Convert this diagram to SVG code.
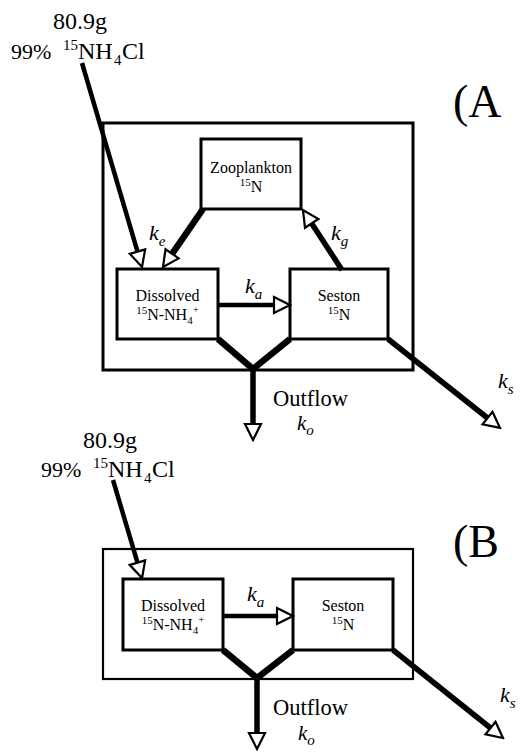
<svg xmlns="http://www.w3.org/2000/svg" width="521" height="753" viewBox="0 0 521 753" font-family="'Liberation Serif','Times New Roman',serif">
<style>
text{font-family:"Liberation Serif","Times New Roman",serif;fill:#000}
.box{fill:#fff;stroke:#000;stroke-width:3}
.outer{fill:none;stroke:#000;stroke-width:3}
.outerB{fill:none;stroke:#000;stroke-width:2.2}
.node{font-size:16px}
.sup{font-size:11px}
.hd{font-size:24px}
.hs{font-size:15px}
.k{font-size:22px;font-style:italic}
.ko{font-size:21px;font-style:italic}
.ks{font-size:15px;font-style:italic}
.lbl{font-size:46px}
.of{font-size:22.5px}
.c{fill:none;stroke:#000;stroke-linecap:butt;stroke-linejoin:miter}
.w4{stroke-width:4.5}
.w5{stroke-width:5.5}
.w6{stroke-width:6.5}
</style>
<defs>
<marker id="ah" viewBox="-2 -10 20 20" markerWidth="20" markerHeight="20" refX="0" refY="0" orient="auto" markerUnits="userSpaceOnUse">
<path d="M0,-8 L16,0 L0,8 Z" fill="#fff" stroke="#000" stroke-width="2.2" stroke-linejoin="miter"/>
</marker>
</defs>

<!-- Panel A -->
<g id="labelA"><text class="lbl" x="453" y="117">(A</text></g>
<g id="sourceA">
<text class="hd" x="80" y="29" text-anchor="middle">80.9g</text>
<text class="hd" y="59"><tspan x="11" font-size="22">99%</tspan><tspan x="63" class="hs" dy="-9">15</tspan><tspan x="78" dy="9">NH</tspan><tspan x="114" class="hs" dy="6">4</tspan><tspan x="122" dy="-6">Cl</tspan></text>
</g>
<g id="lakeA"><rect class="outer" x="103" y="123" width="310" height="247"/></g>
<g id="zooA">
<rect class="box" x="201" y="139" width="100" height="70"/>
<text class="node" x="251" y="173" text-anchor="middle">Zooplankton</text>
<text class="node" x="251" y="192" text-anchor="middle"><tspan class="sup" dy="-6">15</tspan><tspan dy="6">N</tspan></text>
</g>
<g id="dissolvedA">
<rect class="box" x="117" y="269" width="101" height="70"/>
<text class="node" x="167.5" y="301" text-anchor="middle">Dissolved</text>
<text class="node" x="167.5" y="320" text-anchor="middle"><tspan class="sup" dy="-6">15</tspan><tspan dy="6">N-NH</tspan><tspan class="sup" dy="4">4</tspan><tspan class="sup" dy="-11">+</tspan></text>
</g>
<g id="sestonA">
<rect class="box" x="290" y="269" width="98" height="70"/>
<text class="node" x="339" y="301" text-anchor="middle">Seston</text>
<text class="node" x="339" y="320" text-anchor="middle"><tspan class="sup" dy="-6">15</tspan><tspan dy="6">N</tspan></text>
</g>

<!-- Panel B -->
<g id="labelB"><text class="lbl" x="453" y="557">(B</text></g>
<g id="sourceB">
<text class="hd" x="110" y="448" text-anchor="middle">80.9g</text>
<text class="hd" y="477"><tspan x="41" font-size="22">99%</tspan><tspan x="93" class="hs" dy="-9">15</tspan><tspan x="108" dy="9">NH</tspan><tspan x="144" class="hs" dy="6">4</tspan><tspan x="152" dy="-6">Cl</tspan></text>
</g>
<g id="lakeB"><rect class="outerB" x="103" y="549" width="310" height="130"/></g>
<g id="dissolvedB">
<rect class="box" x="123" y="579" width="100" height="71"/>
<text class="node" x="173" y="611" text-anchor="middle">Dissolved</text>
<text class="node" x="173" y="630" text-anchor="middle"><tspan class="sup" dy="-6">15</tspan><tspan dy="6">N-NH</tspan><tspan class="sup" dy="4">4</tspan><tspan class="sup" dy="-11">+</tspan></text>
</g>
<g id="sestonB">
<rect class="box" x="293" y="579" width="100" height="71"/>
<text class="node" x="343" y="611" text-anchor="middle">Seston</text>
<text class="node" x="343" y="630" text-anchor="middle"><tspan class="sup" dy="-6">15</tspan><tspan dy="6">N</tspan></text>
</g>

<g id="connectors">
<!-- A -->
<line class="c w4" x1="82" y1="63" x2="137.5" y2="251.6" marker-end="url(#ah)"/>
<line class="c w6" x1="203" y1="209" x2="172.1" y2="253.8" marker-end="url(#ah)"/>
<line class="c w5" x1="342" y1="270" x2="311.7" y2="223.4" marker-end="url(#ah)"/>
<line class="c w4" x1="218" y1="305" x2="274" y2="305" marker-end="url(#ah)"/>
<line class="c w5" x1="388" y1="339" x2="487.5" y2="418" marker-end="url(#ah)"/>
<polyline class="c w6" points="218,339 253,369 290,339"/>
<line class="c w5" x1="253" y1="369" x2="253" y2="424" marker-end="url(#ah)"/>
<!-- B -->
<line class="c w4" x1="113" y1="480" x2="137.5" y2="562.7" marker-end="url(#ah)"/>
<line class="c w4" x1="223" y1="616" x2="277" y2="616" marker-end="url(#ah)"/>
<line class="c w5" x1="393" y1="650" x2="490.5" y2="728" marker-end="url(#ah)"/>
<polyline class="c w6" points="223,650 257,678 293,650"/>
<line class="c w5" x1="257" y1="678" x2="257" y2="733" marker-end="url(#ah)"/>
</g>

<g id="rateLabels">
<text class="k" x="149" y="240">k<tspan class="ks" dy="6">e</tspan></text>
<text class="k" x="331" y="240">k<tspan class="ks" dy="6">g</tspan></text>
<text class="k" x="245" y="293">k<tspan class="ks" dy="6">a</tspan></text>
<text class="k" x="498" y="388">k<tspan class="ks" dy="6">s</tspan></text>
<text class="of" x="273" y="406">Outflow</text>
<text class="ko" x="297" y="430">k<tspan class="ks" dy="5">o</tspan></text>
<text class="k" x="247" y="601">k<tspan class="ks" dy="6">a</tspan></text>
<text class="k" x="500" y="702">k<tspan class="ks" dy="6">s</tspan></text>
<text class="of" x="273" y="715">Outflow</text>
<text class="ko" x="298" y="740">k<tspan class="ks" dy="5">o</tspan></text>
</g>
</svg>
